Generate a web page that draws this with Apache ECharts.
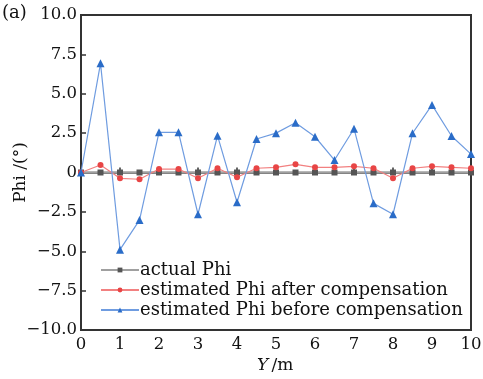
<!DOCTYPE html>
<html><head><meta charset="utf-8">
<script src="https://cdn.jsdelivr.net/npm/echarts@6/dist/echarts.min.js"></script>
<style>html,body{margin:0;padding:0;background:#fff}#c{width:483px;height:379px}</style>
</head><body><div id="c"></div>
<script>
const xs = [0,0.5,1,1.5,2,2.5,3,3.5,4,4.5,5,5.5,6,6.5,7,7.5,8,8.5,9,9.5,10];
const actualPhi = [0,0,0,0,0,0,0,0,0,0,0,0,0,0,0,0,0,0,0,0,0];
const afterComp = [0,0.48,-0.37,-0.43,0.22,0.22,-0.37,0.27,-0.3,0.27,0.33,0.52,0.33,0.33,0.39,0.27,-0.37,0.27,0.39,0.33,0.27];
const beforeComp = [0,6.93,-4.9,-3.02,2.55,2.55,-2.65,2.34,-1.89,2.13,2.5,3.16,2.27,0.79,2.78,-1.96,-2.65,2.49,4.29,2.32,1.17];
const seriesNames = ['actual Phi','estimated Phi after compensation','estimated Phi before compensation'];

const FONT = 'DejaVu Serif';
const pair = arr => xs.map((x,i)=>[x,arr[i]]);
const fmtY = v => v===0 ? '0' : (v<0?'\u2212':'') + Math.abs(v).toFixed(1);

const chart = echarts.init(document.getElementById('c'));
chart.setOption({
  animation:false,
  textStyle:{fontFamily:FONT},
  grid:{left:81,right:12,top:15,bottom:49,outerBoundsMode:'none',containLabel:false,show:true,borderColor:'#333',borderWidth:2,backgroundColor:'transparent'},
  graphic:[
    {type:'text',left:2,top:4,style:{text:'(a)',font:'18px "DejaVu Serif"',fill:'#111'}},
    {type:'text',left:257,top:357,style:{rich:{i:{fontStyle:'italic',fontFamily:FONT,fontSize:17,fill:'#111'},n:{fontFamily:FONT,fontSize:17,fill:'#111'}},text:'{i|Y} {n|/m}'}}
  ],
  legend:{
    orient:'vertical',left:95,top:256,itemWidth:38,itemHeight:6,itemGap:2,
    textStyle:{fontFamily:FONT,fontSize:18,color:'#111',padding:[0,0,0,-4]},
    data:seriesNames
  },
  xAxis:{
    type:'value',min:0,max:10,interval:1,
    axisLine:{show:true,lineStyle:{color:'#333',width:2}},
    axisTick:{show:true,inside:true,length:5,lineStyle:{color:'#333',width:1.5}},
    axisLabel:{fontFamily:FONT,fontSize:16.5,color:'#111',margin:6},
    splitLine:{show:false}
  },
  yAxis:{
    type:'value',min:-10,max:10,interval:2.5,
    name:'Phi /(°)',nameLocation:'middle',nameGap:52,nameRotate:90,nameMoveOverlap:false,
    nameTextStyle:{fontFamily:FONT,fontSize:17,color:'#111'},
    axisLine:{show:true,lineStyle:{color:'#333',width:2}},
    axisTick:{show:true,inside:true,length:5,lineStyle:{color:'#333',width:1.5}},
    axisLabel:{fontFamily:FONT,fontSize:16.5,color:'#111',margin:4,formatter:fmtY},
    splitLine:{show:false}
  },
  series:[
    {name:seriesNames[0],type:'line',data:pair(actualPhi),symbol:'rect',symbolSize:6,
     itemStyle:{color:'#555'},lineStyle:{color:'#a0a0a0',width:2.5},z:2},
    {name:seriesNames[1],type:'line',data:pair(afterComp),symbol:'circle',symbolSize:6,
     itemStyle:{color:'#e84545'},lineStyle:{color:'#f28080',width:1.2},z:3},
    {name:seriesNames[2],type:'line',data:pair(beforeComp),symbol:'triangle',symbolSize:8,
     itemStyle:{color:'#2a6cc8'},lineStyle:{color:'#6f9ce0',width:1.2},z:4}
  ]
});
</script></body></html>
